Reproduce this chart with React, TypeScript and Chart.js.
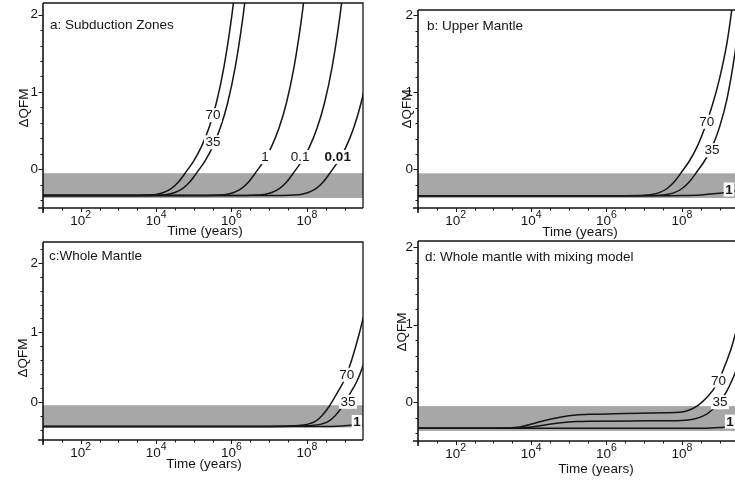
import React, { useEffect, useRef } from 'react';
import { Chart, registerables } from 'chart.js';

Chart.register(...registerables);

const FONT = '"Liberation Sans", Arial, Helvetica, sans-serif';
const INK = '#151515';
const BAND_COLOR = '#a7a7a7';

// ---------- data (x = log10 of time in years, y = ΔQFM) ----------
// shaded band (ΔQFM range)
const BAND = [-0.37, -0.05];

// axis ticks (log10 years) and labelled decades
const X_TICKS = [1, 1.5, 2, 2.5, 3, 3.5, 4, 4.5, 5, 5.5, 6, 6.5, 7, 7.5, 8, 8.5, 9];
const X_LABEL_EXP = [2, 4, 6, 8];
const Y_TICKS = [-0.4, -0.2, 0, 0.2, 0.4, 0.6, 0.8, 1, 1.2, 1.4, 1.6, 1.8, 2, 2.2];
const Y_LABELS = [0, 1, 2];

// a: Subduction Zones
const A70_X = [1.0, 3.0, 3.5, 3.8, 4.0, 4.2, 4.4, 4.6, 4.8, 5.0, 5.2, 5.4, 5.6, 5.8, 6.0, 6.1];
const A70_Y = [-0.34, -0.34, -0.338, -0.333, -0.325, -0.3, -0.25, -0.16, -0.03, 0.11, 0.29, 0.53, 0.86, 1.32, 1.95, 2.35];
const A35_X = [1.0, 3.3, 3.8, 4.1, 4.3, 4.5, 4.7, 4.9, 5.1, 5.3, 5.5, 5.7, 5.9, 6.1, 6.3, 6.4];
const A35_Y = [-0.34, -0.34, -0.338, -0.333, -0.325, -0.3, -0.25, -0.16, -0.03, 0.11, 0.29, 0.53, 0.86, 1.32, 1.95, 2.35];
const A1_X = [1.0, 4.86, 5.36, 5.66, 5.86, 6.06, 6.26, 6.46, 6.66, 6.86, 7.06, 7.26, 7.46, 7.66, 7.86, 7.96];
const A1_Y = [-0.34, -0.34, -0.338, -0.333, -0.325, -0.3, -0.25, -0.16, -0.03, 0.11, 0.29, 0.53, 0.86, 1.32, 1.95, 2.35];
const A01_X = [1.0, 5.87, 6.37, 6.67, 6.87, 7.07, 7.27, 7.47, 7.67, 7.87, 8.07, 8.27, 8.47, 8.67, 8.87, 8.97];
const A01_Y = [-0.34, -0.34, -0.338, -0.333, -0.325, -0.3, -0.25, -0.16, -0.03, 0.11, 0.29, 0.53, 0.86, 1.32, 1.95, 2.35];
const A001_X = [1.0, 6.84, 7.34, 7.64, 7.84, 8.04, 8.24, 8.44, 8.64, 8.84, 9.04, 9.24, 9.44, 9.64, 9.84, 9.94];
const A001_Y = [-0.34, -0.34, -0.338, -0.333, -0.325, -0.3, -0.25, -0.16, -0.03, 0.11, 0.29, 0.53, 0.86, 1.32, 1.95, 2.35];

// b: Upper Mantle
const B70_X = [1.0, 6.5, 7.0, 7.2, 7.4, 7.6, 7.8, 8.0, 8.2, 8.4, 8.6, 8.8, 9.0, 9.2, 9.3, 9.4];
const B70_Y = [-0.34, -0.34, -0.335, -0.325, -0.3, -0.25, -0.16, -0.03, 0.11, 0.29, 0.53, 0.82, 1.18, 1.65, 1.98, 2.35];
const B35_X = [1.0, 6.9, 7.4, 7.6, 7.8, 8.0, 8.2, 8.4, 8.6, 8.8, 9.0, 9.2, 9.4, 9.5, 9.6];
const B35_Y = [-0.34, -0.34, -0.335, -0.325, -0.3, -0.25, -0.16, -0.03, 0.11, 0.29, 0.55, 0.92, 1.48, 1.85, 2.3];
const B1_X = [1.0, 7.5, 8.0, 8.5, 9.0, 9.3, 9.6];
const B1_Y = [-0.34, -0.34, -0.338, -0.33, -0.31, -0.29, -0.26];

// c: Whole Mantle
const C70_X = [1.0, 7.0, 7.5, 7.8, 8.0, 8.2, 8.4, 8.6, 8.8, 9.0, 9.2, 9.4, 9.5, 9.6];
const C70_Y = [-0.355, -0.355, -0.35, -0.34, -0.325, -0.29, -0.2, -0.06, 0.12, 0.32, 0.62, 1.0, 1.22, 1.45];
const C35_X = [1.0, 7.35, 7.85, 8.15, 8.35, 8.55, 8.75, 8.95, 9.15, 9.35, 9.55, 9.75];
const C35_Y = [-0.355, -0.355, -0.35, -0.34, -0.325, -0.29, -0.2, -0.06, 0.12, 0.32, 0.62, 1.0];
const C1_X = [1.0, 8.5, 9.0, 9.3, 9.6];
const C1_Y = [-0.355, -0.355, -0.345, -0.335, -0.32];

// d: Whole mantle with mixing model
const D70_X = [1.0, 3.0, 3.3, 3.7, 4.1, 4.5, 4.8, 5.2, 5.6, 6.5, 7.5, 8.0, 8.2, 8.43, 8.7, 8.9, 9.1, 9.3, 9.5];
const D70_Y = [-0.335, -0.335, -0.333, -0.32, -0.27, -0.22, -0.19, -0.165, -0.155, -0.145, -0.135, -0.125, -0.1, -0.04, 0.08, 0.21, 0.42, 0.68, 1.02];
const D35_X = [1.0, 3.5, 4.0, 4.4, 4.8, 5.2, 5.6, 7.0, 8.0, 8.3, 8.6, 8.8, 9.0, 9.2, 9.4, 9.6];
const D35_Y = [-0.335, -0.335, -0.32, -0.29, -0.265, -0.25, -0.245, -0.24, -0.235, -0.22, -0.17, -0.1, 0.0, 0.15, 0.36, 0.62];
const D1_X = [1.0, 8.5, 9.0, 9.5];
const D1_Y = [-0.335, -0.335, -0.325, -0.31];

// curve labels: [text, log10 time, ΔQFM, bold]
const A_LABELS: [string, number, number, boolean][] = [
  ['70', 5.51, 0.7, false], ['35', 5.51, 0.35, false], ['1', 6.89, 0.16, false],
  ['0.1', 7.82, 0.16, false], ['0.01', 8.82, 0.16, true],
];
const B_LABELS: [string, number, number, boolean][] = [
  ['70', 8.66, 0.62, false], ['35', 8.8, 0.25, false], ['1', 9.25, -0.26, true],
];
const C_LABELS: [string, number, number, boolean][] = [
  ['70', 9.06, 0.39, false], ['35', 9.09, 0.0, false], ['1', 9.33, -0.29, true],
];
const D_LABELS: [string, number, number, boolean][] = [
  ['70', 8.97, 0.28, false], ['35', 9.01, 0.0, false], ['1', 9.28, -0.25, true],
];

const X_MIN_EXP = 1;

// ---------- layout ----------
type Cfg = {
  left: number; top: number; w: number; h: number;
  area: { l: number; t: number; r: number; b: number };
  xMaxExp: number; yMin: number; yMax: number;
  title: string; titlePos: [number, number];
  yTitlePos: [number, number]; xTitlePos: [number, number];
  curves: [number[], number[]][];
  labels: [string, number, number, boolean][];
};

const PANELS: Cfg[] = [
  {
    left: 0, top: 0, w: 367, h: 240,
    area: { l: 43, t: 3, r: 363, b: 208 },
    xMaxExp: 9.49, yMin: -0.5, yMax: 2.15,
    title: 'a: Subduction Zones', titlePos: [50, 25],
    yTitlePos: [24, 108], xTitlePos: [205, 231],
    curves: [[A70_X, A70_Y], [A35_X, A35_Y], [A1_X, A1_Y], [A01_X, A01_Y], [A001_X, A001_Y]],
    labels: A_LABELS,
  },
  {
    left: 367, top: 0, w: 380, h: 240,
    area: { l: 51, t: 10, r: 371, b: 208 },
    xMaxExp: 9.49, yMin: -0.5, yMax: 2.07,
    title: 'b: Upper Mantle', titlePos: [60, 26],
    yTitlePos: [40, 109], xTitlePos: [213, 232],
    curves: [[B70_X, B70_Y], [B35_X, B35_Y], [B1_X, B1_Y]],
    labels: B_LABELS,
  },
  {
    left: 0, top: 240, w: 367, h: 243,
    area: { l: 43, t: 2, r: 363, b: 200 },
    xMaxExp: 9.49, yMin: -0.55, yMax: 2.3,
    title: 'c:Whole Mantle', titlePos: [49, 16],
    yTitlePos: [23, 118], xTitlePos: [204, 224],
    curves: [[C70_X, C70_Y], [C35_X, C35_Y], [C1_X, C1_Y]],
    labels: C_LABELS,
  },
  {
    left: 367, top: 240, w: 380, h: 243,
    area: { l: 51, t: 1, r: 371, b: 201 },
    xMaxExp: 9.49, yMin: -0.5, yMax: 2.08,
    title: 'd: Whole mantle with mixing model', titlePos: [58, 17],
    yTitlePos: [35, 92], xTitlePos: [229, 229],
    curves: [[D70_X, D70_Y], [D35_X, D35_Y], [D1_X, D1_Y]],
    labels: D_LABELS,
  },
];

const FS = 13.5;

function makeDecor(cfg: Cfg) {
  return {
    id: 'decor',
    beforeDatasetsDraw(chart: any) {
      const { ctx, chartArea: ca, scales } = chart;
      const y = scales.y;
      const yTop = y.getPixelForValue(BAND[1]);
      const yBot = y.getPixelForValue(BAND[0]);
      ctx.save();
      ctx.fillStyle = BAND_COLOR;
      ctx.fillRect(ca.left, yTop, ca.right - ca.left, yBot - yTop);
      ctx.restore();
    },
    afterDatasetsDraw(chart: any) {
      const { ctx, chartArea: ca, scales } = chart;
      const x = scales.x;
      const y = scales.y;
      ctx.save();

      // curve labels with white boxes
      ctx.textAlign = 'center';
      ctx.textBaseline = 'middle';
      cfg.labels.forEach(([text, lx, ly, bold]) => {
        ctx.font = `${bold ? 'bold ' : ''}${FS}px ${FONT}`;
        const px = x.getPixelForValue(Math.pow(10, lx));
        const py = y.getPixelForValue(ly);
        const w = ctx.measureText(text).width + 3;
        ctx.fillStyle = '#fff';
        ctx.fillRect(px - w / 2, py - 7, w, 14);
        ctx.fillStyle = INK;
        ctx.fillText(text, px, py + 0.5);
      });

      // axes lines
      ctx.strokeStyle = INK;
      ctx.lineWidth = 1.6;
      ctx.beginPath();
      ctx.moveTo(ca.left, ca.top);
      ctx.lineTo(ca.left, ca.bottom + 5);
      ctx.moveTo(ca.left - 5, ca.bottom);
      ctx.lineTo(ca.right, ca.bottom);
      ctx.stroke();
      // frame top/right
      ctx.lineWidth = 1.3;
      ctx.beginPath();
      ctx.moveTo(ca.left, ca.top);
      ctx.lineTo(ca.right, ca.top);
      ctx.lineTo(ca.right, ca.bottom);
      ctx.stroke();

      // ticks
      ctx.lineWidth = 1;
      ctx.beginPath();
      Y_TICKS.forEach((v) => {
        if (v < cfg.yMin || v > cfg.yMax) return;
        const py = Math.round(y.getPixelForValue(v)) + 0.5;
        const major = Y_LABELS.includes(v);
        ctx.moveTo(ca.left, py);
        ctx.lineTo(ca.left - (major ? 4.5 : 2.5), py);
      });
      X_TICKS.forEach((e) => {
        const px = Math.round(x.getPixelForValue(Math.pow(10, e))) + 0.5;
        const major = X_LABEL_EXP.includes(e);
        ctx.moveTo(px, ca.bottom);
        ctx.lineTo(px, ca.bottom + (major ? 4 : 2.5));
      });
      ctx.stroke();

      // x tick labels 10^n
      ctx.fillStyle = INK;
      ctx.textAlign = 'left';
      ctx.textBaseline = 'alphabetic';
      X_LABEL_EXP.forEach((e) => {
        const px = x.getPixelForValue(Math.pow(10, e));
        ctx.font = `${FS}px ${FONT}`;
        const wb = ctx.measureText('10').width;
        ctx.font = `10.5px ${FONT}`;
        const ws = ctx.measureText(String(e)).width;
        const lx = px - (wb + ws) / 2;
        const base = ca.bottom + 17;
        ctx.font = `${FS}px ${FONT}`;
        ctx.fillText('10', lx, base);
        ctx.font = `10.5px ${FONT}`;
        ctx.fillText(String(e), lx + wb, base - 7);
      });

      // axis titles
      ctx.font = `${FS}px ${FONT}`;
      ctx.textAlign = 'center';
      ctx.textBaseline = 'middle';
      ctx.fillText('Time (years)', cfg.xTitlePos[0], cfg.xTitlePos[1]);
      ctx.save();
      ctx.translate(cfg.yTitlePos[0], cfg.yTitlePos[1]);
      ctx.rotate(-Math.PI / 2);
      ctx.fillText('\u0394QFM', 0, 0);
      ctx.restore();

      // panel title
      ctx.textAlign = 'left';
      ctx.fillText(cfg.title, cfg.titlePos[0], cfg.titlePos[1]);

      ctx.restore();
    },
  };
}

function Panel({ cfg }: { cfg: Cfg }) {
  const ref = useRef<HTMLCanvasElement>(null);
  useEffect(() => {
    const canvas = ref.current;
    if (!canvas) return;
    const a = cfg.area;
    const chart = new Chart(canvas, {
      type: 'line',
      data: {
        datasets: cfg.curves.map(([xs, ys]) => ({
          data: xs.map((v, i) => ({ x: Math.pow(10, v), y: ys[i] })),
          borderColor: INK,
          borderWidth: 1.5,
          pointRadius: 0,
          fill: false,
          cubicInterpolationMode: 'monotone' as const,
        })),
      },
      options: {
        responsive: false,
        animation: false,
        devicePixelRatio: 1,
        events: [],
        layout: { autoPadding: false, padding: { left: 0, top: a.t, right: cfg.w - a.r, bottom: 0 } },
        plugins: { legend: { display: false }, tooltip: { enabled: false } },
        scales: {
          x: {
            type: 'logarithmic',
            min: Math.pow(10, X_MIN_EXP),
            max: Math.pow(10, cfg.xMaxExp),
            grid: { display: false, drawTicks: false },
            border: { display: false },
            ticks: { display: false },
            afterFit: (s: any) => {
              s.height = cfg.h - a.b;
              s.paddingLeft = 0; s.paddingRight = 0; s.paddingTop = 0; s.paddingBottom = 0;
            },
          },
          y: {
            type: 'linear',
            min: cfg.yMin,
            max: cfg.yMax,
            grid: { display: false, drawTicks: false },
            border: { display: false },
            afterBuildTicks: (s: any) => {
              s.ticks = [cfg.yMin, ...Y_LABELS, cfg.yMax].map((v) => ({ value: v }));
            },
            ticks: {
              autoSkip: false,
              padding: 5,
              color: INK,
              font: { family: FONT, size: FS },
              callback: (v: any) => (Y_LABELS.includes(Number(v)) ? String(v) : null),
            },
            afterFit: (s: any) => {
              s.width = a.l;
              s.paddingLeft = 0; s.paddingRight = 0; s.paddingTop = 0; s.paddingBottom = 0;
            },
          },
        },
      } as any,
      plugins: [makeDecor(cfg)],
    });
    return () => chart.destroy();
  }, [cfg]);
  return (
    <canvas
      ref={ref}
      width={cfg.w}
      height={cfg.h}
      style={{ position: 'absolute', left: cfg.left, top: cfg.top, width: cfg.w, height: cfg.h }}
    />
  );
}

export default function App() {
  return (
    <div
      style={{
        position: 'fixed', left: 0, top: 0, width: 735, height: 483,
        overflow: 'hidden', background: '#fff',
      }}
    >
      {PANELS.map((p, i) => (
        <Panel key={i} cfg={p} />
      ))}
    </div>
  );
}
